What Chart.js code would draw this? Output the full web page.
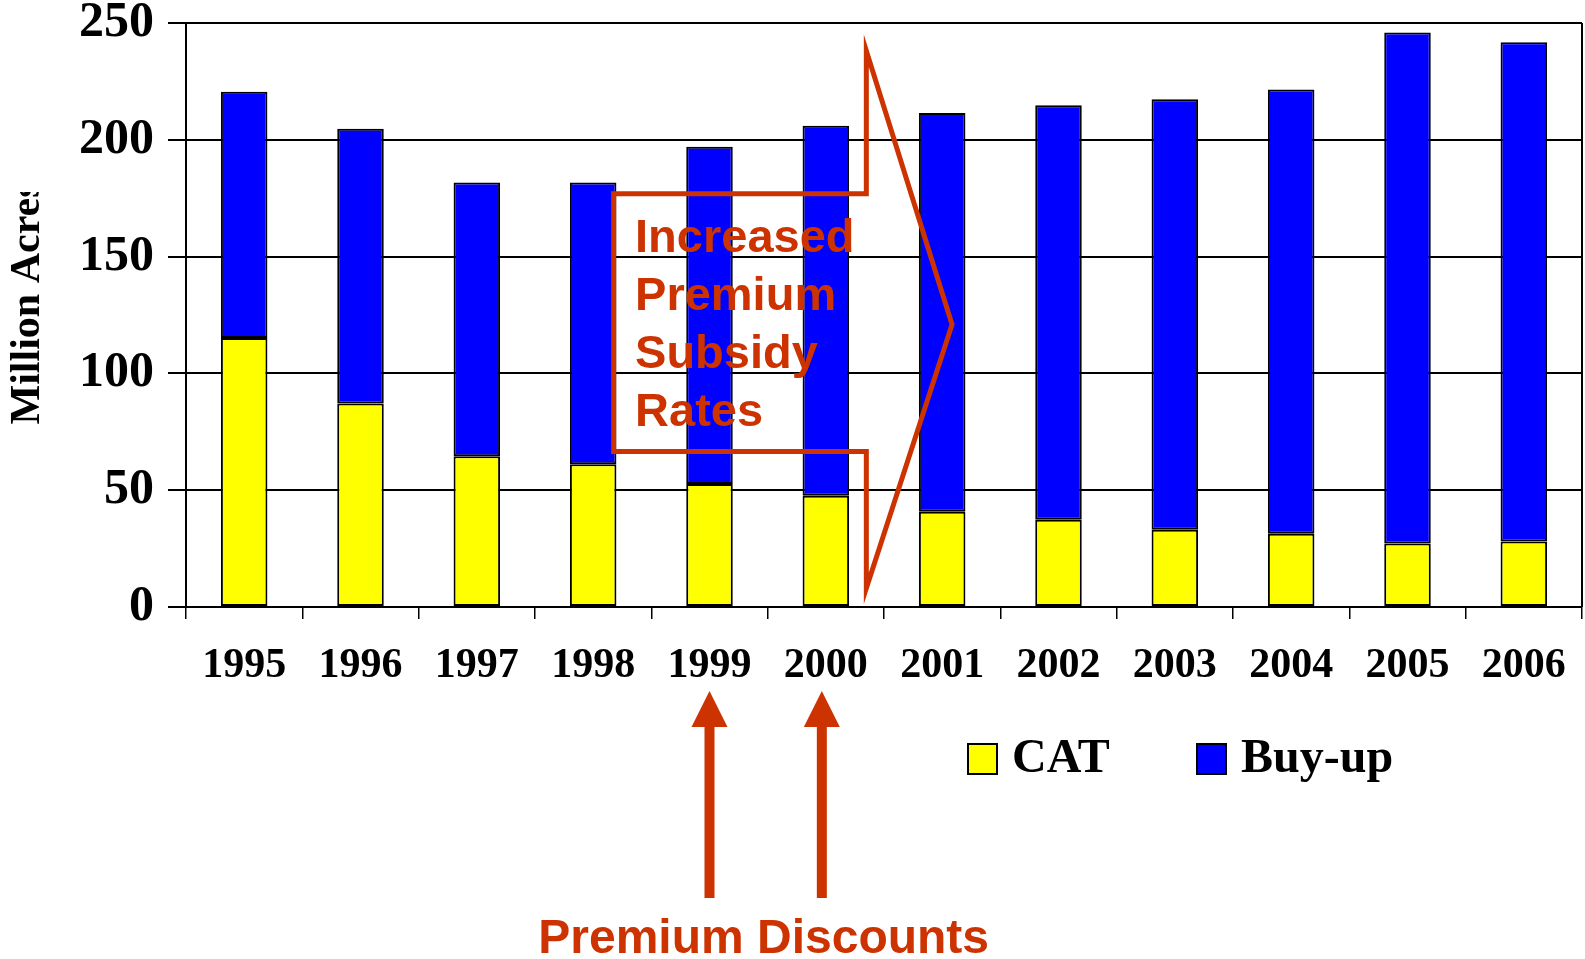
<!DOCTYPE html>
<html>
<head>
<meta charset="utf-8">
<script src="https://cdn.jsdelivr.net/npm/chart.js@4"></script>
<style>
  html, body { margin: 0; padding: 0; background: #fff; }
  #wrap { width: 1585px; height: 959px; }
</style>
</head>
<body>
<div id="wrap"><canvas id="acresChart"></canvas></div>
<script>
// values, million acres
const years = ['1995', '1996', '1997', '1998', '1999', '2000', '2001', '2002', '2003', '2004', '2005', '2006'];
const catAcres = [115.2, 87.1, 64.5, 61.1, 52.7, 47.6, 40.8, 37.4, 33.1, 31.4, 27.2, 28.0];
const buyUpAcres = [105.4, 117.6, 117.2, 120.6, 144.3, 158.4, 170.7, 177.4, 184.3, 190.1, 218.7, 213.8];
const yTicks = [0, 50, 100, 150, 200, 250];
const seriesNames = ['CAT', 'Buy-up'];
const yTitle = 'Million Acres';
const subsidyNote = ['Increased', 'Premium', 'Subsidy', 'Rates'];
const discountNote = 'Premium Discounts';
const discountYears = ['1999', '2000'];

const SERIF = '"Liberation Serif", "Times New Roman", serif';
const SANS = '"Liberation Sans", Arial, sans-serif';
const NOTE = '#cc3300';

const notesPlugin = {
    id: 'notes',
    afterDraw(chart) {
        const c = chart.ctx;
        const x = chart.scales.x;
        const y = chart.scales.y;
        const area = chart.chartArea;
        const catW = x.width / years.length;
        const ux = u => x.left + u * catW;

        c.save();

        // right edge of the plot box
        c.strokeStyle = '#000';
        c.lineWidth = 2;
        c.beginPath();
        c.moveTo(area.right, area.top);
        c.lineTo(area.right, area.bottom);
        c.stroke();

        // y title, cut at the top like the original
        c.save();
        c.beginPath();
        c.rect(0, 192, 80, 400);
        c.clip();
        c.translate(28, 303);
        c.rotate(-Math.PI / 2);
        c.font = 'bold 42px ' + SERIF;
        c.fillStyle = '#000';
        c.textAlign = 'center';
        c.textBaseline = 'middle';
        c.fillText(yTitle, 0, 0);
        c.restore();

        // big outlined arrow
        const arrow = [[3.676, 176.9], [5.848, 176.9], [5.848, 238.1], [6.585, 120.9],
                       [5.848, 8.0], [5.848, 66.6], [3.676, 66.6]];
        c.strokeStyle = NOTE;
        c.lineWidth = 5;
        c.lineJoin = 'miter';
        c.beginPath();
        arrow.forEach((p, i) => {
            const px = ux(p[0]), py = y.getPixelForValue(p[1]);
            if (i === 0) c.moveTo(px, py); else c.lineTo(px, py);
        });
        c.closePath();
        c.stroke();

        c.fillStyle = NOTE;
        c.font = 'bold 47px ' + SANS;
        c.textAlign = 'left';
        c.textBaseline = 'middle';
        subsidyNote.forEach((line, i) => {
            c.fillText(line, ux(3.86), y.getPixelForValue(157.7) + i * 58);
        });

        // up arrows under 1999 and 2000
        const xs = discountYears.map(yr => x.getPixelForValue(years.indexOf(yr)));
        xs[1] -= 4;
        const tip = area.bottom + 84, base = area.bottom + 120, end = area.bottom + 291;
        xs.forEach(ax => {
            c.fillRect(ax - 5, base - 2, 10, end - base + 2);
            c.beginPath();
            c.moveTo(ax, tip);
            c.lineTo(ax + 18, base);
            c.lineTo(ax - 18, base);
            c.closePath();
            c.fill();
        });
        c.font = 'bold 48px ' + SANS;
        c.textAlign = 'center';
        c.textBaseline = 'alphabetic';
        c.fillText(discountNote, (xs[0] + xs[1]) / 2 - 2, 953);

        // legend
        const legendX = [968, 1197];
        c.font = 'bold 48px ' + SERIF;
        c.textAlign = 'left';
        c.textBaseline = 'middle';
        chart.data.datasets.forEach((ds, i) => {
            c.fillStyle = ds.backgroundColor;
            c.fillRect(legendX[i], 744, 29, 30);
            c.strokeStyle = '#000';
            c.lineWidth = 2;
            c.strokeRect(legendX[i], 744, 29, 30);
            c.fillStyle = '#000';
            c.fillText(ds.label, legendX[i] + 44, 760);
        });

        c.restore();
    }
};

new Chart(document.getElementById('acresChart'), {
    type: 'bar',
    data: {
        labels: years,
        datasets: [{
            label: seriesNames[0],
            data: catAcres,
            backgroundColor: '#ffff00',
            borderColor: '#000',
            borderWidth: 2,
            borderSkipped: false
        }, {
            label: seriesNames[1],
            data: buyUpAcres,
            backgroundColor: '#0000ff',
            borderColor: '#000',
            borderWidth: 2,
            borderSkipped: false
        }]
    },
    options: {
        responsive: true,
        maintainAspectRatio: false,
        animation: false,
        datasets: { bar: { barPercentage: 0.5, categoryPercentage: 0.8 } },
        layout: { padding: { top: 23, right: 3, left: 0, bottom: 0 } },
        plugins: {
            legend: { display: false },
            tooltip: { enabled: false }
        },
        scales: {
            x: {
                stacked: true,
                offset: true,
                grid: { display: true, drawOnChartArea: false, drawTicks: true, tickLength: 12, color: '#000', lineWidth: 1.5 },
                border: { display: true, color: '#000', width: 2 },
                ticks: { color: '#000', padding: 22, maxRotation: 0, font: { family: SERIF, size: 42, weight: 'bold' } },
                afterFit(s) { s.height = 352; s.paddingLeft = 0; s.paddingRight = 0; }
            },
            y: {
                stacked: true,
                min: 0,
                max: 250,
                afterBuildTicks(s) { s.ticks = yTicks.map(v => ({ value: v })); },
                grid: { color: '#000', lineWidth: 2, tickLength: 18 },
                border: { display: true, color: '#000', width: 2 },
                ticks: { color: '#000', padding: 14, font: { family: SERIF, size: 50, weight: 'bold' } },
                afterFit(s) { s.width = 186; s.paddingTop = 0; s.paddingBottom = 0; }
            }
        }
    },
    plugins: [notesPlugin]
});
</script>
</body>
</html>
